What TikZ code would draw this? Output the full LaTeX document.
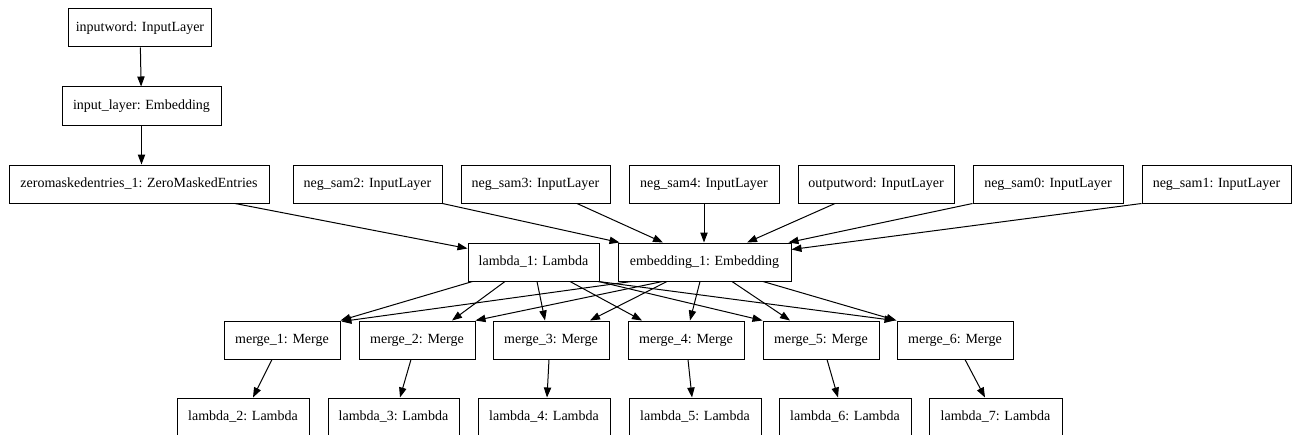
\documentclass[tikz,border=0pt]{standalone}
\usepackage{fontspec}
\setmainfont{Liberation Serif}
\usetikzlibrary{arrows.meta,calc}
\newcommand{\pxu}{0.75pt}
\tikzset{
  box/.style={draw=black, line width=0.75pt, inner sep=0pt,
    minimum height=38*\pxu, font=\fontsize{10.5}{12}\selectfont},
  edge/.style={draw=black, line width=0.75pt,
    -{Triangle[length=7.5pt,width=5.5pt]}}
}
\begin{document}
\begin{tikzpicture}[x=\pxu, y=-\pxu]
\clip (0,0) rectangle (1296,435);
\fill[white] (0,0) rectangle (1296,435);

% first column: word input chain
\node[box, minimum width=143*\pxu] (inputword) at (140,28) {inputword: InputLayer};
\node[box, minimum width=159*\pxu] (inputlayer) at (141.5,106) {input\_layer: Embedding};

% row of inputs
\node[box, minimum width=260*\pxu] (zero) at (139,184) {zeromaskedentries\_1: ZeroMaskedEntries};
\node[box, minimum width=149*\pxu] (neg2) at (367.5,184) {neg\_sam2: InputLayer};
\node[box, minimum width=149*\pxu] (neg3) at (535.5,184) {neg\_sam3: InputLayer};
\node[box, minimum width=150*\pxu] (neg4) at (704,184) {neg\_sam4: InputLayer};
\node[box, minimum width=156*\pxu] (outword) at (876,184) {outputword: InputLayer};
\node[box, minimum width=150*\pxu] (neg0) at (1048,184) {neg\_sam0: InputLayer};
\node[box, minimum width=149*\pxu] (neg1) at (1216.5,184) {neg\_sam1: InputLayer};

% shared layers
\node[box, minimum width=131*\pxu] (lambda1) at (533.5,262) {lambda\_1: Lambda};
\node[box, minimum width=173*\pxu] (emb) at (704.5,262) {embedding\_1: Embedding};

% merges
\node[box, minimum width=116*\pxu] (m1) at (282,340) {merge\_1: Merge};
\node[box, minimum width=116*\pxu] (m2) at (417,340) {merge\_2: Merge};
\node[box, minimum width=116*\pxu] (m3) at (551,340) {merge\_3: Merge};
\node[box, minimum width=116*\pxu] (m4) at (686,340) {merge\_4: Merge};
\node[box, minimum width=116*\pxu] (m5) at (821,340) {merge\_5: Merge};
\node[box, minimum width=116*\pxu] (m6) at (955,340) {merge\_6: Merge};

% output lambdas
\node[box, minimum width=132*\pxu] (l2) at (243,417) {lambda\_2: Lambda};
\node[box, minimum width=131*\pxu] (l3) at (393.5,417) {lambda\_3: Lambda};
\node[box, minimum width=132*\pxu] (l4) at (544,417) {lambda\_4: Lambda};
\node[box, minimum width=132*\pxu] (l5) at (695,417) {lambda\_5: Lambda};
\node[box, minimum width=132*\pxu] (l6) at (845,417) {lambda\_6: Lambda};
\node[box, minimum width=133*\pxu] (l7) at (995.5,417) {lambda\_7: Lambda};

% edges
\draw[edge] (inputword) -- (inputlayer);
\draw[edge] (inputlayer) -- (inputlayer |- zero.north);
\draw[edge] ($(zero.south)+(96,0)$) -- ($(lambda1.north west)+(0,6)$);

\draw[edge] (neg2.south east) -- ($(emb.north west)+(2,0)$);
\draw[edge] ($(neg3.south)+(41.5,0)$) -- ($(emb.north)+(-41.5,0)$);
\draw[edge] (neg4.south) -- (neg4.south |- emb.north);
\draw[edge] ($(outword.south)+(-41,0)$) -- ($(emb.north)+(42.5,0)$);
\draw[edge] (neg0.south west) -- ($(emb.north east)+(-3,0)$);
\draw[edge] (neg1.south west) -- ($(emb.north east)+(0,7)$);

\draw[edge] ($(lambda1.south west)+(5,0)$) -- (m1.north east);
\draw[edge] ($(lambda1.south)+(-28.5,0)$) -- ($(m2.north)+(35,0)$);
\draw[edge] ($(lambda1.south)+(3.5,0)$) -- ($(m3.north)+(-6,0)$);
\draw[edge] ($(lambda1.south)+(36.5,0)$) -- ($(m4.north)+(-44,0)$);
\draw[edge] ($(lambda1.south east)+(-1,0)$) -- (m5.north west);
\draw[edge] ($(lambda1.south east)+(-1,0)$) -- ($(m6.north west)+(-2,0)$);

\draw[edge] ($(emb.south west)+(14,0)$) -- ($(m1.north east)+(1,1)$);
\draw[edge] ($(emb.south)+(-42,0)$) -- (m2.north east);
\draw[edge] ($(emb.south)+(-37.5,0)$) -- ($(m3.north)+(39,0)$);
\draw[edge] ($(emb.south)+(-4.5,0)$) -- ($(m4.north)+(4,0)$);
\draw[edge] ($(emb.south)+(27.5,0)$) -- ($(m5.north)+(-31,0)$);
\draw[edge] ($(emb.south)+(58.5,0)$) -- (m6.north west);

\draw[edge] ($(m1.south)+(-10,0)$) -- ($(l2.north)+(10,0)$);
\draw[edge] ($(m2.south)+(-6,0)$) -- ($(l3.north)+(6.5,0)$);
\draw[edge] ($(m3.south)+(-2,0)$) -- ($(l4.north)+(3,0)$);
\draw[edge] ($(m4.south)+(2,0)$) -- ($(l5.north)+(-3,0)$);
\draw[edge] ($(m5.south)+(6,0)$) -- ($(l6.north)+(-7,0)$);
\draw[edge] ($(m6.south)+(10,0)$) -- ($(l7.north)+(-10.5,0)$);
\end{tikzpicture}
\end{document}
